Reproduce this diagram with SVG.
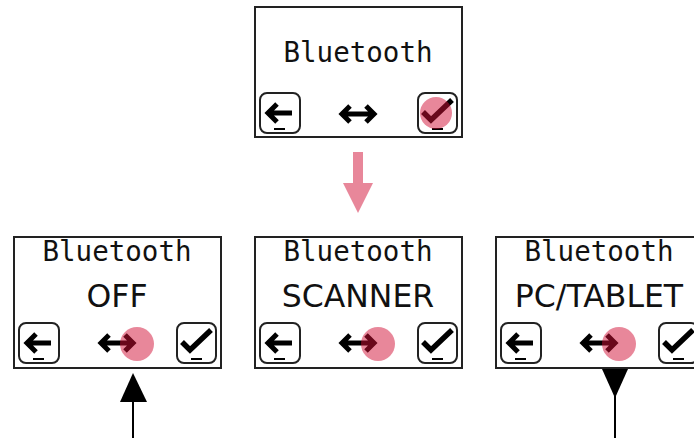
<svg xmlns="http://www.w3.org/2000/svg" xmlns:xlink="http://www.w3.org/1999/xlink" width="694" height="438" viewBox="0 0 694 438">
<style>
.box{fill:#fff;stroke:#222;stroke-width:2}
.btn{fill:#fff;stroke:#222;stroke-width:2}
.ic{fill:none;stroke:#000;stroke-width:5;stroke-linecap:butt;stroke-linejoin:miter}
.ul{stroke:#000;stroke-width:2}
.mono{font-family:"DejaVu Sans Mono","Liberation Mono",monospace;font-size:27.5px;fill:#111;text-anchor:middle}
.sans{font-family:"DejaVu Sans","Liberation Sans",sans-serif;font-size:31.5px;fill:#111;text-anchor:middle}
.dot{fill:#d10f35;fill-opacity:0.5}
.conn{stroke:#000;stroke-width:2}
</style>
<defs>
<g id="back">
<rect class="btn" x="0" y="0" width="40" height="40" rx="7"/>
<path class="ic" d="M8 20H32M17 11L8 20L17 29"/>
<line class="ul" x1="14" y1="36" x2="25" y2="36"/>
</g>
<g id="ok">
<rect class="btn" x="0" y="0" width="39" height="40" rx="7"/>
<path class="ic" d="M5 19L13 27L34 7" style="stroke-width:5.5"/>
<line class="ul" x1="14" y1="36" x2="25" y2="36"/>
</g>
<g id="lr">
<path class="ic" d="M-16 0H16M-8 -8L-16 0L-8 8M8 -8L16 0L8 8"/>
</g>
</defs>

<g id="node-top">
<rect class="box" x="255" y="7" width="207" height="130"/>
<text class="mono" x="358" y="62">Bluetooth</text>
<use xlink:href="#back" x="260" y="93"/>
<use xlink:href="#lr" x="358" y="114"/>
<use xlink:href="#ok" x="418" y="93"/>
<circle class="dot" cx="436" cy="113" r="16"/>
</g>

<g id="node-off">
<rect class="box" x="14" y="237" width="207" height="131"/>
<text class="mono" x="117" y="261">Bluetooth</text>
<text class="sans" x="117" y="307">OFF</text>
<use xlink:href="#back" x="19" y="323"/>
<use xlink:href="#lr" x="117" y="343"/>
<use xlink:href="#ok" x="177" y="323"/>
<circle class="dot" cx="137" cy="344" r="17"/>
</g>

<g id="node-scanner">
<rect class="box" x="255" y="237" width="207" height="131"/>
<text class="mono" x="358" y="261">Bluetooth</text>
<text class="sans" x="358" y="307">SCANNER</text>
<use xlink:href="#back" x="260" y="323"/>
<use xlink:href="#lr" x="358" y="343"/>
<use xlink:href="#ok" x="418" y="323"/>
<circle class="dot" cx="378" cy="344" r="17"/>
</g>

<g id="node-pc">
<rect class="box" x="496" y="237" width="207" height="131"/>
<text class="mono" x="599" y="261">Bluetooth</text>
<text class="sans" x="599" y="307">PC/TABLET</text>
<use xlink:href="#back" x="501" y="323"/>
<use xlink:href="#lr" x="599" y="343"/>
<use xlink:href="#ok" x="659" y="323"/>
<circle class="dot" cx="619" cy="344" r="17"/>
</g>

<g id="connectors">
<path d="M353 152H363V183H373L358 213L343 183H353Z" fill="#e8879a"/>
<line class="conn" x1="133" y1="400" x2="133" y2="438"/>
<polygon points="120,402 147,402 133,373" fill="#000"/>
<line class="conn" x1="615" y1="396" x2="615" y2="438"/>
<polygon points="602,369 628,369 615,398" fill="#000"/>
</g>
</svg>
